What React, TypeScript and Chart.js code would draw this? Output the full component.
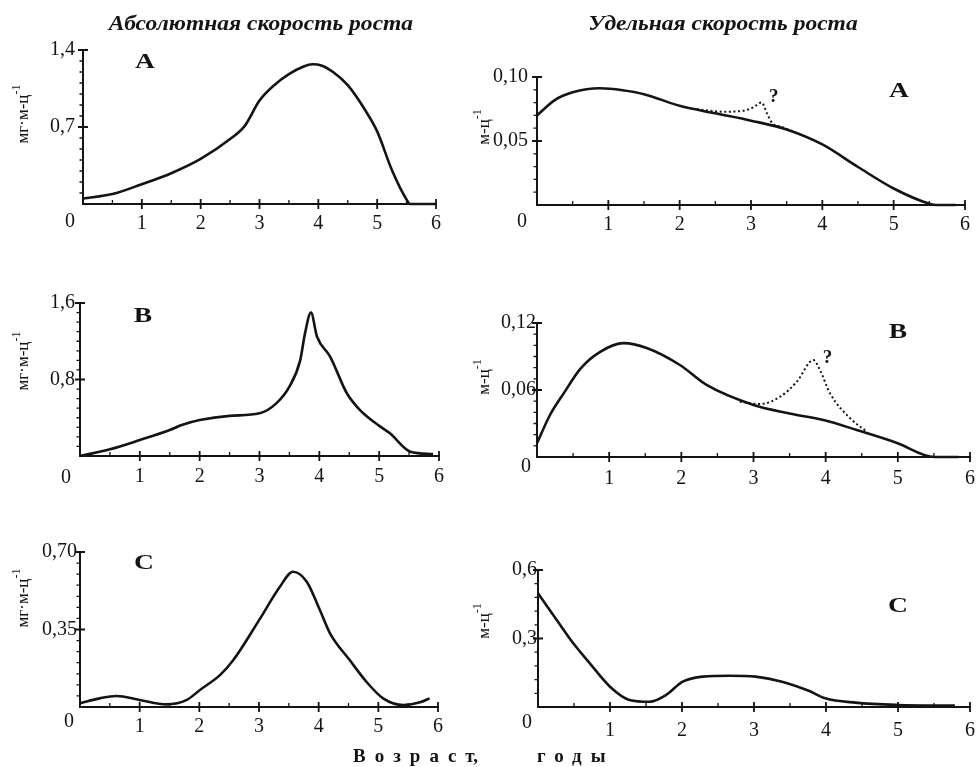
import React, { useEffect, useRef } from 'react';
import { Chart, registerables } from 'chart.js';

Chart.register(...registerables);

// ---------- data ----------
const X_TICKS = [1, 2, 3, 4, 5, 6];
const X_TICK_LABELS = ['1', '2', '3', '4', '5', '6'];
const X_MINOR = [0.5, 1.5, 2.5, 3.5, 4.5, 5.5];

// A — absolute growth rate (мг·м-ц⁻¹)
const absA_age = [0, 0.5, 1, 1.5, 2, 2.5, 2.75, 3, 3.25, 3.5, 3.75, 3.9, 4.05, 4.25, 4.5, 4.8, 5, 5.25, 5.5, 5.56, 6];
const absA_rate = [0.05, 0.09, 0.18, 0.28, 0.41, 0.59, 0.71, 0.94, 1.08, 1.18, 1.25, 1.27, 1.26, 1.2, 1.08, 0.85, 0.66, 0.31, 0.04, 0.0, 0.0];
const absA_yTicks = [0.7, 1.4];
const absA_yLabels = ['0,7', '1,4'];

// A — specific growth rate (м-ц⁻¹)
const spcA_age = [0, 0.25, 0.5, 0.88, 1.2, 1.5, 2, 2.5, 3, 3.5, 4, 4.5, 5, 5.5, 5.6, 5.87];
const spcA_rate = [0.07, 0.082, 0.088, 0.0912, 0.0897, 0.0866, 0.0775, 0.0716, 0.0659, 0.059, 0.0473, 0.0297, 0.0129, 0.001, 0, 0];
const spcA_dotAge = [2.24, 2.61, 2.89, 3.03, 3.15, 3.22, 3.3, 3.42, 3.58];
const spcA_dotRate = [0.0749, 0.0729, 0.0736, 0.0762, 0.0801, 0.072, 0.0638, 0.0612, 0.0578];
const spcA_yTicks = [0.05, 0.1];
const spcA_yLabels = ['0,05', '0,10'];

// B — absolute
const absB_age = [0, 0.5, 1, 1.5, 1.7, 2, 2.5, 3, 3.28, 3.5, 3.68, 3.76, 3.86, 3.96, 4.18, 4.46, 4.68, 5.02, 5.18, 5.52, 5.9];
const absB_rate = [0, 0.07, 0.167, 0.272, 0.324, 0.376, 0.42, 0.446, 0.55, 0.725, 1.0, 1.28, 1.5, 1.25, 1.04, 0.656, 0.48, 0.307, 0.237, 0.045, 0.02];
const absB_yTicks = [0.8, 1.6];
const absB_yLabels = ['0,8', '1,6'];

// B — specific
const spcB_age = [0, 0.18, 0.37, 0.6, 0.87, 1.2, 1.52, 1.98, 2.35, 3.0, 3.5, 3.97, 4.43, 4.98, 5.51, 5.84];
const spcB_rate = [0.0123, 0.0376, 0.057, 0.079, 0.094, 0.102, 0.0976, 0.0824, 0.0645, 0.0466, 0.039, 0.0331, 0.0242, 0.0128, 0.0, 0.0];
const spcB_dotAge = [2.81, 3.09, 3.37, 3.6, 3.83, 3.92, 4.06, 4.34, 4.57];
const spcB_dotRate = [0.0495, 0.0474, 0.054, 0.0674, 0.0868, 0.078, 0.057, 0.0346, 0.0227];
const spcB_yTicks = [0.06, 0.12];
const spcB_yLabels = ['0,06', '0,12'];

// C — absolute
const absC_age = [0, 0.33, 0.61, 1.0, 1.45, 1.79, 2.01, 2.35, 2.57, 3.02, 3.35, 3.57, 3.8, 4.02, 4.19, 4.52, 4.8, 5.08, 5.42, 5.7, 5.86];
const absC_rate = [0.017, 0.039, 0.05, 0.032, 0.012, 0.032, 0.077, 0.145, 0.212, 0.4, 0.543, 0.611, 0.566, 0.438, 0.333, 0.212, 0.114, 0.039, 0.009, 0.021, 0.039];
const absC_yTicks = [0.35, 0.7];
const absC_yLabels = ['0,35', '0,70'];

// C — specific
const spcC_age = [0, 0.26, 0.49, 0.72, 1.0, 1.27, 1.55, 1.78, 2.01, 2.29, 2.66, 3.02, 3.39, 3.76, 3.99, 4.41, 5.0, 5.79];
const spcC_rate = [0.498, 0.381, 0.279, 0.191, 0.089, 0.031, 0.023, 0.053, 0.111, 0.133, 0.137, 0.133, 0.111, 0.071, 0.038, 0.019, 0.009, 0.006];
const spcC_yTicks = [0.3, 0.6];
const spcC_yLabels = ['0,3', '0,6'];

const TITLE_ABS = 'Абсолютная скорость роста';
const TITLE_SPC = 'Удельная скорость роста';
const X_TITLE_1 = 'Возраст';
const X_TITLE_2 = 'годы';

// ---------- styling / layout ----------
const FONT = "'Liberation Serif', 'Times New Roman', serif";
const INK = '#141414';
const PAD_L = 70, PAD_T = 20, PAD_R = 15, PAD_B = 40;

type PanelCfg = {
  id: string;
  letter: string;
  age: number[];
  rate: number[];
  dotAge?: number[];
  dotRate?: number[];
  yMax: number;
  yTicks: number[];
  yLabels: string[];
  yMinorStep: number;
  rect: { l: number; t: number; r: number; b: number };
  yPad: number;
  xPad: number;
  origin: [number, number];
  q?: [number, number];
  letterPos: [number, number];
  unitPos: [number, number];
  unit: 'abs' | 'spc';
};

const PANELS: PanelCfg[] = [
  { id: 'absA', letter: 'A', age: absA_age, rate: absA_rate, yMax: 1.4, yTicks: absA_yTicks, yLabels: absA_yLabels, yMinorStep: 0.1,
    rect: { l: 83, t: 50, r: 436, b: 204 }, yPad: 8, xPad: 8, origin: [-13, 18], letterPos: [145, 61], unitPos: [22, 114], unit: 'abs' },
  { id: 'spcA', letter: 'A', age: spcA_age, rate: spcA_rate, dotAge: spcA_dotAge, dotRate: spcA_dotRate, yMax: 0.1, yTicks: spcA_yTicks, yLabels: spcA_yLabels, yMinorStep: 0.01,
    rect: { l: 537, t: 76, r: 965, b: 205 }, yPad: 9, xPad: 8, origin: [-15, 17], q: [12, -5], letterPos: [899, 90], unitPos: [483, 127], unit: 'spc' },
  { id: 'absB', letter: 'B', age: absB_age, rate: absB_rate, yMax: 1.6, yTicks: absB_yTicks, yLabels: absB_yLabels, yMinorStep: 0.1,
    rect: { l: 80, t: 303, r: 439, b: 456 }, yPad: 5, xPad: 9, origin: [-14, 22], letterPos: [143, 315], unitPos: [22, 361], unit: 'abs' },
  { id: 'spcB', letter: 'B', age: spcB_age, rate: spcB_rate, dotAge: spcB_dotAge, dotRate: spcB_dotRate, yMax: 0.12, yTicks: spcB_yTicks, yLabels: spcB_yLabels, yMinorStep: 0.01,
    rect: { l: 537, t: 323, r: 970, b: 457 }, yPad: 1, xPad: 10, origin: [-11, 10], q: [14, -2], letterPos: [898, 331], unitPos: [483, 377], unit: 'spc' },
  { id: 'absC', letter: 'C', age: absC_age, rate: absC_rate, yMax: 0.7, yTicks: absC_yTicks, yLabels: absC_yLabels, yMinorStep: 0.05,
    rect: { l: 80, t: 552, r: 438, b: 707 }, yPad: 3, xPad: 8, origin: [-11, 15], letterPos: [144, 562], unitPos: [22, 598], unit: 'abs' },
  { id: 'spcC', letter: 'C', age: spcC_age, rate: spcC_rate, yMax: 0.6, yTicks: spcC_yTicks, yLabels: spcC_yLabels, yMinorStep: 0.06,
    rect: { l: 538, t: 570, r: 972, b: 707 }, yPad: 1, xPad: 12, origin: [-11, 16], letterPos: [898, 605], unitPos: [483, 621], unit: 'spc' },
];

const decoPlugin = {
  id: 'panelDeco',
  afterDraw(chart: any) {
    const cfg = chart.options.plugins.panelDeco;
    if (!cfg) return;
    const { ctx } = chart;
    const xs = chart.scales.x;
    const ys = chart.scales.y;
    const x0 = xs.getPixelForValue(0);
    const y0 = ys.getPixelForValue(0);
    ctx.save();
    ctx.strokeStyle = INK;
    ctx.lineWidth = 1.8;
    ctx.beginPath();
    for (const v of X_TICKS) {
      const px = xs.getPixelForValue(v);
      ctx.moveTo(px, y0 - 5);
      ctx.lineTo(px, y0 + 5);
    }
    for (const v of cfg.yTicks) {
      const py = ys.getPixelForValue(v);
      ctx.moveTo(x0 - 5, py);
      ctx.lineTo(x0 + 5, py);
    }
    ctx.stroke();
    ctx.lineWidth = 1.3;
    ctx.beginPath();
    for (const v of X_MINOR) {
      const px = xs.getPixelForValue(v);
      ctx.moveTo(px, y0 - 4);
      ctx.lineTo(px, y0 + 1);
    }
    const step = cfg.yMinorStep;
    for (let k = 1; k * step < cfg.yMax - 1e-9; k++) {
      const v = k * step;
      if (cfg.yTicks.some((t: number) => Math.abs(t - v) < 1e-9)) continue;
      const py = ys.getPixelForValue(v);
      ctx.moveTo(x0 - 3.5, py);
      ctx.lineTo(x0, py);
    }
    ctx.stroke();

    ctx.fillStyle = INK;
    ctx.textAlign = 'center';
    ctx.textBaseline = 'middle';
    ctx.font = `20px ${FONT}`;
    ctx.fillText('0', x0 + cfg.origin[0], y0 + cfg.origin[1]);

    if (cfg.q && cfg.dotAge) {
      let bi = 0;
      cfg.dotRate.forEach((r: number, i: number) => { if (r > cfg.dotRate[bi]) bi = i; });
      const px = xs.getPixelForValue(cfg.dotAge[bi]);
      const py = ys.getPixelForValue(cfg.dotRate[bi]);
      ctx.font = `bold 19px ${FONT}`;
      ctx.fillText('?', px + cfg.q[0], py + cfg.q[1]);
    }
    ctx.restore();
  },
};

function PanelChart({ cfg }: { cfg: PanelCfg }) {
  const ref = useRef<HTMLCanvasElement | null>(null);
  const W = cfg.rect.r - cfg.rect.l + PAD_L + PAD_R;
  const H = cfg.rect.b - cfg.rect.t + PAD_T + PAD_B;

  useEffect(() => {
    if (!ref.current) return;
    const datasets: any[] = [
      {
        data: cfg.age.map((x, i) => ({ x, y: cfg.rate[i] })),
        borderColor: INK,
        borderWidth: 2.6,
        pointRadius: 0,
        cubicInterpolationMode: 'monotone',
        fill: false,
        clip: false,
      },
    ];
    if (cfg.dotAge && cfg.dotRate) {
      datasets.push({
        data: cfg.dotAge.map((x, i) => ({ x, y: cfg.dotRate![i] })),
        borderColor: INK,
        borderWidth: 2,
        borderDash: [2, 2.6],
        pointRadius: 0,
        cubicInterpolationMode: 'monotone',
        fill: false,
        clip: false,
      });
    }
    const tickFont = { family: FONT, size: 20 };
    const chart = new Chart(ref.current, {
      type: 'line',
      data: { datasets },
      options: {
        responsive: false,
        animation: false,
        devicePixelRatio: 1,
        events: [],
        layout: { padding: { left: 0, top: PAD_T, right: PAD_R, bottom: 0 } },
        plugins: {
          legend: { display: false },
          tooltip: { enabled: false },
          title: { display: false },
          panelDeco: {
            yTicks: cfg.yTicks,
            yMax: cfg.yMax,
            yMinorStep: cfg.yMinorStep,
            origin: cfg.origin,
            q: cfg.q,
            dotAge: cfg.dotAge,
            dotRate: cfg.dotRate,
          },
        } as any,
        scales: {
          x: {
            type: 'linear',
            min: 0,
            max: 6,
            afterFit: (s: any) => { s.height = PAD_B; },
            afterBuildTicks: (s: any) => { s.ticks = X_TICKS.map((v) => ({ value: v })); },
            ticks: {
              autoSkip: false,
              maxRotation: 0,
              padding: cfg.xPad,
              font: tickFont,
              color: INK,
              callback: (_v: any, i: number) => X_TICK_LABELS[i],
            },
            grid: { display: false, drawTicks: false },
            border: { display: true, color: INK, width: 2 },
          },
          y: {
            type: 'linear',
            min: 0,
            max: cfg.yMax,
            afterFit: (s: any) => { s.width = PAD_L; },
            afterBuildTicks: (s: any) => { s.ticks = cfg.yTicks.map((v) => ({ value: v })); },
            ticks: {
              autoSkip: false,
              padding: cfg.yPad,
              font: tickFont,
              color: INK,
              callback: (_v: any, i: number) => cfg.yLabels[i],
            },
            grid: { display: false, drawTicks: false },
            border: { display: true, color: INK, width: 2 },
          },
        },
      } as any,
      plugins: [decoPlugin],
    });
    return () => chart.destroy();
  }, [cfg]);

  return (
    <canvas
      ref={ref}
      width={W}
      height={H}
      style={{ position: 'absolute', left: cfg.rect.l - PAD_L, top: cfg.rect.t - PAD_T, width: W, height: H }}
    />
  );
}

function Label({ x, y, children, style }: { x: number; y: number; children: React.ReactNode; style?: React.CSSProperties }) {
  return (
    <div
      style={{
        position: 'absolute',
        left: x,
        top: y,
        whiteSpace: 'pre',
        lineHeight: 1,
        fontFamily: FONT,
        color: INK,
        ...style,
      }}
    >
      {children}
    </div>
  );
}

export default function App() {
  const head = X_TITLE_1.slice(0, -1);
  const tail = X_TITLE_1.slice(-1);
  return (
    <div style={{ position: 'absolute', left: 0, top: 0, width: 978, height: 767, background: '#fff', overflow: 'hidden' }}>
      {PANELS.map((p) => (
        <PanelChart key={p.id} cfg={p} />
      ))}

      <Label x={261} y={23} style={{ fontSize: 21, fontWeight: 'bold', fontStyle: 'italic', transform: 'translate(-50%, -50%) scaleX(1.12)' }}>
        {TITLE_ABS}
      </Label>
      <Label x={723} y={23} style={{ fontSize: 21, fontWeight: 'bold', fontStyle: 'italic', transform: 'translate(-50%, -50%) scaleX(1.12)' }}>
        {TITLE_SPC}
      </Label>

      {PANELS.map((p) => (
        <Label key={p.id + '-L'} x={p.letterPos[0]} y={p.letterPos[1]} style={{ fontSize: 22, fontWeight: 'bold', transform: 'translate(-50%, -50%) scaleX(1.25)' }}>
          {p.letter}
        </Label>
      ))}

      {PANELS.map((p) => (
        <Label key={p.id + '-U'} x={p.unitPos[0]} y={p.unitPos[1]} style={{ fontSize: 17, transform: 'translate(-50%, -50%) rotate(-90deg)' }}>
          {p.unit === 'abs' ? 'мг·м-ц' : 'м-ц'}
          <sup style={{ fontSize: 12, verticalAlign: 'top', position: 'relative', top: -4 }}>-1</sup>
        </Label>
      ))}

      <Label x={353} y={746} style={{ fontSize: 19, fontWeight: 'bold', letterSpacing: 9 }}>
        {head}
        <span style={{ letterSpacing: 0 }}>{tail},</span>
      </Label>
      <Label x={537} y={746} style={{ fontSize: 19, fontWeight: 'bold', letterSpacing: 9 }}>
        {X_TITLE_2}
      </Label>
    </div>
  );
}
